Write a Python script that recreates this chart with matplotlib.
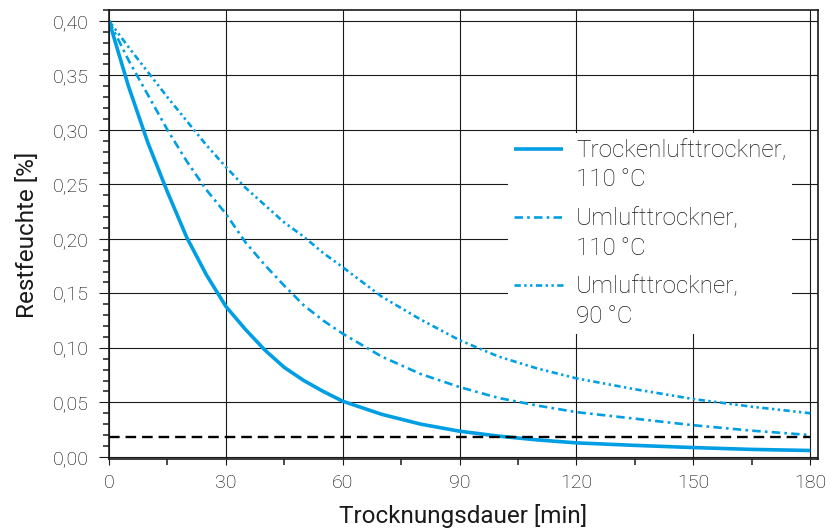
import numpy as np
import matplotlib
matplotlib.use('Agg')
import matplotlib.pyplot as plt
from matplotlib.ticker import MultipleLocator
from matplotlib.legend_handler import HandlerLine2D

plt.rcParams['font.family'] = ['Roboto', 'DejaVu Sans']
plt.rcParams['font.weight'] = 'light'

# data
t_min = [0, 5, 10, 15, 20, 25, 30, 35, 40, 45, 50, 55, 60, 70, 80, 90, 100, 110, 120, 135, 150, 165, 180]
trockenluft_110 = [0.400, 0.340, 0.288, 0.243, 0.201, 0.167, 0.138, 0.117, 0.098, 0.082, 0.070, 0.060, 0.051,
                   0.039, 0.030, 0.0235, 0.019, 0.0155, 0.0128, 0.0105, 0.0085, 0.0068, 0.0058]
umluft_110 = [0.400, 0.364, 0.332, 0.300, 0.271, 0.245, 0.223, 0.197, 0.176, 0.157, 0.139, 0.125, 0.113,
              0.092, 0.076, 0.064, 0.054, 0.047, 0.041, 0.035, 0.029, 0.024, 0.020]
umluft_90 = [0.400, 0.376, 0.353, 0.330, 0.308, 0.286, 0.266, 0.247, 0.231, 0.215, 0.202, 0.187, 0.174,
             0.147, 0.126, 0.107, 0.092, 0.081, 0.072, 0.062, 0.053, 0.046, 0.040]
grenzwert = 0.018
labels = ['Trockenlufttrockner,\n110\u2009°C', 'Umlufttrockner,\n110\u2009°C', 'Umlufttrockner,\n90\u2009°C']
x_ticks = [0, 30, 60, 90, 120, 150, 180]
y_ticks = [0.00, 0.05, 0.10, 0.15, 0.20, 0.25, 0.30, 0.35, 0.40]
y_ticklabels = ['0,00', '0,05', '0,10', '0,15', '0,20', '0,25', '0,30', '0,35', '0,40']

blue = '#009fe3'
ink = '#1a1a1a'

fig = plt.figure(figsize=(8.3, 5.3), dpi=100)
ax = fig.add_axes([109 / 830, 71 / 530, 709 / 830, 449 / 530])

ax.grid(True, which='major', color=ink, lw=0.8)
ax.set_axisbelow(True)

l1, = ax.plot(t_min, trockenluft_110, color=blue, lw=2.6, solid_capstyle='butt')
l2, = ax.plot(t_min, umluft_110, color=blue, lw=1.9, ls=(0, (3.2, 1.6, 1.0, 1.6)))
l3, = ax.plot(t_min, umluft_90, color=blue, lw=1.9, ls=(0, (2.4, 1.3, 0.9, 1.3, 0.9, 1.3)))
ax.plot([x_ticks[0], x_ticks[-1]], [grenzwert, grenzwert], color='black', lw=1.7, ls=(0, (4.5, 2.5)))

ax.set_xlim(0, 182)
ax.set_ylim(-0.002, 0.41)
ax.set_xticks(x_ticks)
ax.xaxis.set_minor_locator(MultipleLocator(15))
ax.set_yticks(y_ticks)
ax.set_yticklabels(y_ticklabels)
ax.yaxis.set_minor_locator(MultipleLocator(0.01))

ax.tick_params(axis='both', which='major', labelsize=14, color=ink, labelcolor='black', width=0.8)
ax.tick_params(axis='x', which='major', length=4.5, pad=6)
ax.tick_params(axis='y', which='major', length=7.5, pad=7)
ax.tick_params(axis='both', which='minor', length=4, width=1.1, color=ink)
for s in ax.spines.values():
    s.set_linewidth(1.2)
    s.set_color(ink)

ax.set_xlabel('Trocknungsdauer [min]', fontsize=17.5, labelpad=9, color=ink)
ax.set_ylabel('Restfeuchte [%]', fontsize=17.5, labelpad=10, color=ink)


class UpperLine(HandlerLine2D):
    # put the legend line beside the first text line of a two-line label
    def create_artists(self, legend, orig_handle, xdescent, ydescent, width, height, fontsize, trans):
        return super().create_artists(legend, orig_handle, xdescent, ydescent - 1.4 * fontsize,
                                      width, height, fontsize, trans)


leg = ax.legend([l1, l2, l3], labels, loc='upper left', bbox_to_anchor=(0.5628, 0.726),
                fontsize=17.5, frameon=True, fancybox=False, framealpha=1, edgecolor='none',
                borderaxespad=0, borderpad=0.25, handlelength=2.0, handletextpad=0.55,
                labelspacing=0.65, handler_map={matplotlib.lines.Line2D: UpperLine()})
for txt in leg.get_texts():
    txt.set_color(ink)
    txt.set_linespacing(1.35)

fig.savefig('out.png', dpi=100)
